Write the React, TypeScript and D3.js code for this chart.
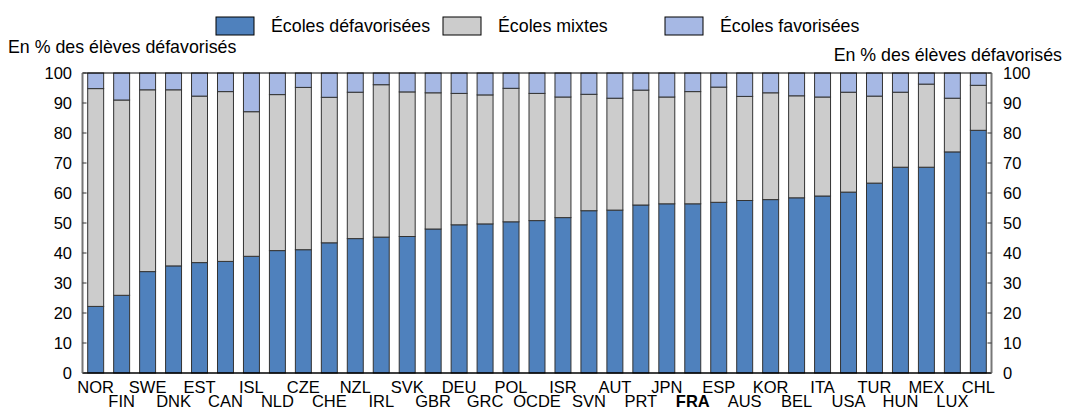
import React from "react";
import * as d3 from "d3";

const categories = ["NOR","FIN","SWE","DNK","EST","CAN","ISL","NLD","CZE","CHE","NZL","IRL","SVK","GBR","DEU","GRC","POL","OCDE","ISR","SVN","AUT","PRT","JPN","FRA","ESP","AUS","KOR","BEL","ITA","USA","TUR","HUN","MEX","LUX","CHL"];
const disadvantaged = [22.2,25.9,33.8,35.7,36.8,37.2,38.9,40.8,41.1,43.4,44.8,45.3,45.5,48.0,49.4,49.7,50.4,50.8,51.8,54.1,54.3,56.0,56.4,56.4,56.9,57.5,57.8,58.4,59.0,60.3,63.3,68.6,68.6,73.7,80.9];
const cumulativeMixed = [94.8,91.0,94.4,94.4,92.3,93.8,87.1,92.8,95.2,91.9,93.6,96.1,93.7,93.4,93.2,92.7,94.9,93.2,92.0,92.9,91.6,94.3,92.0,93.8,95.3,92.2,93.4,92.4,92.0,93.6,92.3,93.6,96.3,91.6,95.9];
const mixed = cumulativeMixed.map((c, i) => +(c - disadvantaged[i]).toFixed(1));
const advantaged = cumulativeMixed.map((c) => +(100 - c).toFixed(1));
const yTicks = [0,10,20,30,40,50,60,70,80,90,100];
const seriesNames = ["Écoles défavorisées","Écoles mixtes","Écoles favorisées"];
const seriesColors = ["#4F81BD","#CCCCCC","#A6B8E4"];
const axisTitle = "En % des élèves défavorisés";
const highlight = "FRA";

const W = 1067, H = 409;
const left = 82.5, right = 991.5, top = 73, bottom = 373;
const FONT = "'Liberation Sans', Arial, sans-serif";

export default function App() {
  const x = d3.scaleBand<string>().domain(categories).range([left, right]).paddingInner(0.385).paddingOuter(0.2);
  const y = d3.scaleLinear().domain([0, 100]).range([bottom, top]);
  const rows = categories.map((c, i) => ({ c, vals: [disadvantaged[i], mixed[i], advantaged[i]] }));
  const stack = d3.stack<any>().keys(["0","1","2"]).value((d: any, k: string) => d.vals[+k]);
  const layers = stack(rows as any);
  const legendX = [216, 443, 665];
  return (
    <svg width={W} height={H} style={{ position: "absolute", left: 0, top: 0, background: "#fff" }} fontFamily={FONT}>
      {layers.map((layer, li) => (
        <g key={li}>
          {layer.map((d: any, i: number) => (
            <rect key={i} x={x(categories[i])} width={x.bandwidth()} y={y(d[1])} height={y(d[0]) - y(d[1])}
              fill={seriesColors[li]} stroke="#333" strokeWidth={1} />
          ))}
        </g>
      ))}
      <line x1={left} x2={right} y1={top} y2={top} stroke="#000" strokeWidth={1} />
      <line x1={left} x2={right} y1={bottom} y2={bottom} stroke="#000" strokeWidth={1.5} />
      <line x1={left} x2={left} y1={top} y2={bottom} stroke="#777" strokeWidth={2} />
      <line x1={right} x2={right} y1={top} y2={bottom} stroke="#777" strokeWidth={2} />
      {yTicks.map((t) => (
        <g key={t}>
          <line x1={left} x2={left + 4} y1={y(t)} y2={y(t)} stroke="#333" />
          <line x1={right - 4} x2={right} y1={y(t)} y2={y(t)} stroke="#333" />
          <text x={72} y={y(t)} dy="0.36em" textAnchor="end" fontSize={16.5}>{t}</text>
          <text x={1003} y={y(t)} dy="0.36em" textAnchor="start" fontSize={16.5}>{t}</text>
        </g>
      ))}
      {categories.map((c, i) => (
        <text key={c} x={(x(c) as number) + x.bandwidth() / 2} y={i % 2 === 0 ? 393 : 407} textAnchor="middle"
          fontSize={16.5} fontWeight={c === highlight ? "bold" : "normal"}>{c}</text>
      ))}
      <text x={8} y={53} fontSize={17.8}>{axisTitle}</text>
      <text x={1062} y={61} fontSize={17.8} textAnchor="end">{axisTitle}</text>
      {seriesNames.map((s, i) => (
        <g key={s}>
          <rect x={legendX[i]} y={17} width={38} height={18} fill={seriesColors[i]} stroke="#000" strokeWidth={1} />
          <text x={legendX[i] + 55} y={32} fontSize={17.8}>{s}</text>
        </g>
      ))}
    </svg>
  );
}
